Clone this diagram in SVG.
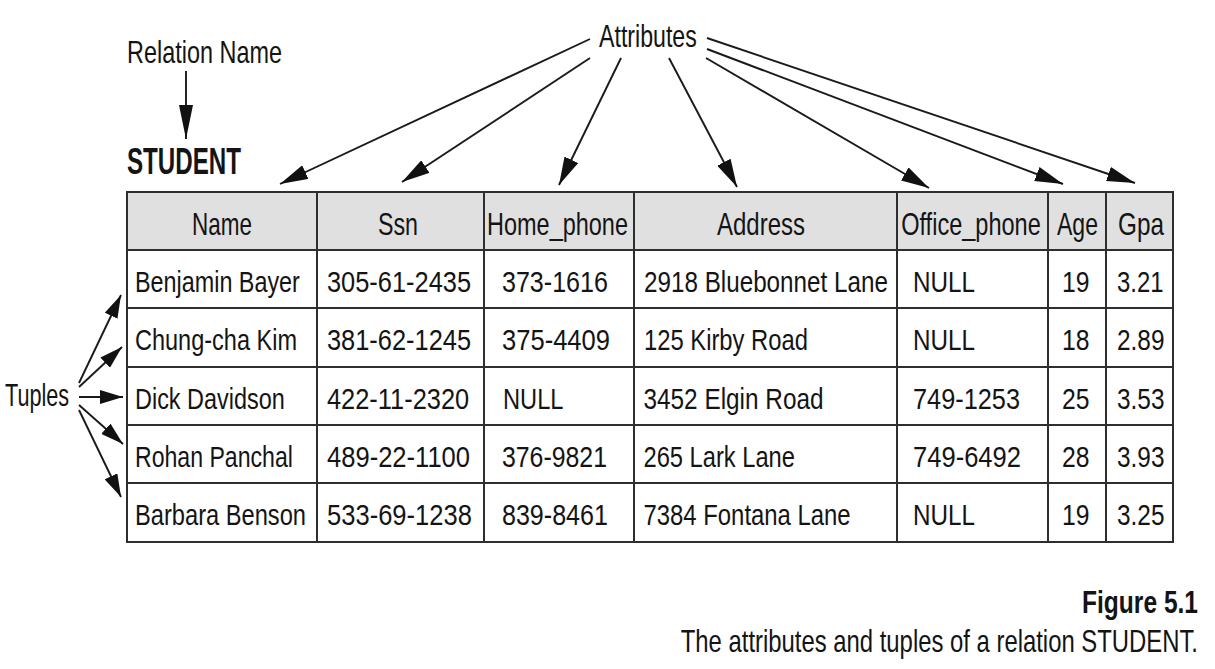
<svg xmlns="http://www.w3.org/2000/svg" width="1215" height="669" viewBox="0 0 1215 669">
<style>
text{font-family:"Liberation Sans",Arial,Helvetica,sans-serif;fill:#141414}
.h{font-size:32px;text-anchor:middle}
.b{font-size:30px}
.lbl{font-size:31px}
.bold{font-weight:bold}
.end{text-anchor:end}
.grid{stroke:#2e2e2e;stroke-width:2;fill:none}
.conn line{stroke:#1a1a1a;stroke-width:1.9}
</style>
<defs>
<marker id="ahA" viewBox="0 0 28 15" refX="28" refY="7.5" markerWidth="28" markerHeight="15" markerUnits="userSpaceOnUse" orient="auto"><path d="M0,0 L28,7.5 L0,15 z" fill="#111"/></marker>
<marker id="ahR" viewBox="0 0 34 14" refX="34" refY="7" markerWidth="34" markerHeight="14" markerUnits="userSpaceOnUse" orient="auto"><path d="M0,0 L34,7 L0,14 z" fill="#111"/></marker>
<marker id="ahT" viewBox="0 0 23 14" refX="23" refY="7" markerWidth="23" markerHeight="14" markerUnits="userSpaceOnUse" orient="auto"><path d="M0,0 L23,7 L0,14 z" fill="#111"/></marker>
</defs>
<rect width="1215" height="669" fill="#fff"/>

<g id="relation-name-label">
<text class="lbl" transform="translate(127,63) scale(0.756,1)">Relation Name</text>
</g>
<g id="student-label">
<text class="bold" font-size="36" transform="translate(127,174) scale(0.671,1)">STUDENT</text>
</g>
<g id="attributes-label">
<text class="lbl" font-size="32" transform="translate(599,47) scale(0.747,1)">Attributes</text>
</g>
<g id="tuples-label">
<text class="lbl" font-size="32" transform="translate(5,406) scale(0.698,1)">Tuples</text>
</g>

<g id="student-table">
<rect x="127" y="192" width="1046" height="58" fill="#e0e0e0"/>
<rect class="grid" x="127" y="192" width="1046" height="350" stroke-width="2.4"/>
<path class="grid" d="M127,250H1173M127,308H1173M127,367H1173M127,425H1173M127,483H1173M317,192V542M484,192V542M634,192V542M897,192V542M1048,192V542M1106,192V542"/>
<g id="header">
<text class="h" transform="translate(222,235) scale(0.703,1)">Name</text>
<text class="h" transform="translate(398,235) scale(0.726,1)">Ssn</text>
<text class="h" transform="translate(557.5,235) scale(0.734,1)">Home_phone</text>
<text class="h" transform="translate(761,235) scale(0.75,1)">Address</text>
<text class="h" transform="translate(971,235) scale(0.736,1)">Office_phone</text>
<text class="h" transform="translate(1077.5,235) scale(0.72,1)">Age</text>
<text class="h" transform="translate(1141,235) scale(0.76,1)">Gpa</text>
</g>
<g id="tuple-1">
<text class="b" transform="translate(135,292) scale(0.779,1)">Benjamin Bayer</text>
<text class="b" transform="translate(327,292) scale(0.847,1)">305-61-2435</text>
<text class="b" transform="translate(502,292) scale(0.836,1)">373-1616</text>
<text class="b" transform="translate(644,292) scale(0.808,1)">2918 Bluebonnet Lane</text>
<text class="b" transform="translate(913,292) scale(0.808,1)">NULL</text>
<text class="b" transform="translate(1062,292) scale(0.824,1)">19</text>
<text class="b" transform="translate(1117,292) scale(0.796,1)">3.21</text>
</g>
<g id="tuple-2">
<text class="b" transform="translate(135,350) scale(0.784,1)">Chung-cha Kim</text>
<text class="b" transform="translate(327,350) scale(0.847,1)">381-62-1245</text>
<text class="b" transform="translate(502,350) scale(0.852,1)">375-4409</text>
<text class="b" transform="translate(644,350) scale(0.793,1)">125 Kirby Road</text>
<text class="b" transform="translate(913,350) scale(0.808,1)">NULL</text>
<text class="b" transform="translate(1062,350) scale(0.824,1)">18</text>
<text class="b" transform="translate(1117,350) scale(0.813,1)">2.89</text>
</g>
<g id="tuple-3">
<text class="b" transform="translate(135,408.5) scale(0.782,1)">Dick Davidson</text>
<text class="b" transform="translate(327,408.5) scale(0.847,1)">422-11-2320</text>
<text class="b" transform="translate(503,408.5) scale(0.789,1)">NULL</text>
<text class="b" transform="translate(643.5,408.5) scale(0.812,1)">3452 Elgin Road</text>
<text class="b" transform="translate(913,408.5) scale(0.844,1)">749-1253</text>
<text class="b" transform="translate(1062,408.5) scale(0.824,1)">25</text>
<text class="b" transform="translate(1117,408.5) scale(0.813,1)">3.53</text>
</g>
<g id="tuple-4">
<text class="b" transform="translate(135,467) scale(0.77,1)">Rohan Panchal</text>
<text class="b" transform="translate(327,467) scale(0.852,1)">489-22-1100</text>
<text class="b" transform="translate(502,467) scale(0.828,1)">376-9821</text>
<text class="b" transform="translate(643.5,467) scale(0.79,1)">265 Lark Lane</text>
<text class="b" transform="translate(913,467) scale(0.852,1)">749-6492</text>
<text class="b" transform="translate(1062,467) scale(0.824,1)">28</text>
<text class="b" transform="translate(1117,467) scale(0.813,1)">3.93</text>
</g>
<g id="tuple-5">
<text class="b" transform="translate(135,525) scale(0.789,1)">Barbara Benson</text>
<text class="b" transform="translate(327,525) scale(0.852,1)">533-69-1238</text>
<text class="b" transform="translate(502,525) scale(0.836,1)">839-8461</text>
<text class="b" transform="translate(643.5,525) scale(0.796,1)">7384 Fontana Lane</text>
<text class="b" transform="translate(913,525) scale(0.808,1)">NULL</text>
<text class="b" transform="translate(1062,525) scale(0.824,1)">19</text>
<text class="b" transform="translate(1117,525) scale(0.813,1)">3.25</text>
</g>
</g>

<g id="connectors" class="conn">
<line x1="186" y1="71" x2="186" y2="139" marker-end="url(#ahR)"/>
<line x1="590" y1="39" x2="280" y2="184" marker-end="url(#ahA)"/>
<line x1="590" y1="58" x2="402" y2="182" marker-end="url(#ahA)"/>
<line x1="621" y1="58" x2="559" y2="185" marker-end="url(#ahA)"/>
<line x1="669" y1="58" x2="737" y2="187" marker-end="url(#ahA)"/>
<line x1="706" y1="58" x2="929" y2="188" marker-end="url(#ahA)"/>
<line x1="707" y1="49" x2="1063" y2="184" marker-end="url(#ahA)"/>
<line x1="707" y1="38" x2="1135" y2="183" marker-end="url(#ahA)"/>
<line x1="79" y1="383" x2="121" y2="295" marker-end="url(#ahT)"/>
<line x1="79" y1="387" x2="122" y2="347" marker-end="url(#ahT)"/>
<line x1="79" y1="397" x2="123" y2="397" marker-end="url(#ahT)"/>
<line x1="79" y1="405" x2="123" y2="444" marker-end="url(#ahT)"/>
<line x1="79" y1="410" x2="121" y2="497" marker-end="url(#ahT)"/>
</g>

<g id="caption">
<text class="bold end" font-size="31" transform="translate(1198,613) scale(0.792,1)">Figure 5.1</text>
<text class="end" font-size="31" transform="translate(1198,652) scale(0.77,1)">The attributes and tuples of a relation STUDENT.</text>
</g>
</svg>
